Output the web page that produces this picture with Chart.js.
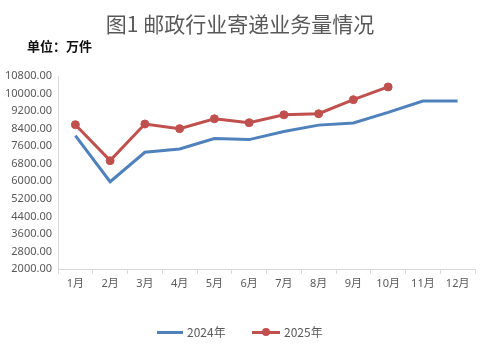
<!DOCTYPE html>
<html>
<head>
<meta charset="utf-8">
<script src="https://cdn.jsdelivr.net/npm/chart.js@4"></script>
<style>
    body { margin: 0; background: #fff; font-family: "Noto Sans CJK SC", "Noto Sans", sans-serif; }
    .wrap { position: relative; width: 480px; height: 352px; }
    .title { position: absolute; left: 0; top: 9px; width: 480px; text-align: center; font-size: 21px; color: #595959; line-height: 28px; }
    .unit { position: absolute; left: 27px; top: 37px; font-size: 13px; font-weight: bold; color: #111; line-height: 18px; }
    .legend { position: absolute; top: 323px; font-size: 12px; color: #595959; line-height: 18px; }
    .legend span.line { position: absolute; top: 8px; height: 3px; }
    .legend span.dot { position: absolute; top: 5px; width: 8px; height: 8px; border-radius: 50%; background: #C0504D; }
    canvas { position: absolute; left: 0; top: 0; }
</style>
</head>
<body>
<div class="wrap">
    <canvas id="chartMain" width="480" height="352"></canvas>
    <div class="title">图1 邮政行业寄递业务量情况</div>
    <div class="unit">单位：万件</div>
    <!-- Legend -->
    <div class="legend" style="left:157px;"><span class="line" style="left:0;width:26px;background:#4F81BD;"></span><span style="position:absolute;left:30px;white-space:nowrap;">2024年</span></div>
    <div class="legend" style="left:252px;"><span class="line" style="left:0;width:28px;background:#C0504D;"></span><span class="dot" style="left:10px;"></span><span style="position:absolute;left:32px;white-space:nowrap;">2025年</span></div>
</div>
<script>
// ========== DATA ==========
const months = ['1月', '2月', '3月', '4月', '5月', '6月', '7月', '8月', '9月', '10月', '11月', '12月'];
const data2024 = [8080, 5980, 7320, 7470, 7950, 7900, 8270, 8560, 8660, 9140, 9660, 9660];
const data2025 = [8580, 6940, 8610, 8400, 8850, 8670, 9030, 9080, 9720, 10300];
const yMin = 2000;
const yMax = 10800;
const yStep = 800;

const axisColor = '#D9D9D9';
const textColor = '#595959';
const tickFont = { family: '"Noto Sans", "Noto Sans CJK SC", sans-serif', size: 11 };

const ctx = document.getElementById('chartMain').getContext('2d');
new Chart(ctx, {
    type: 'line',
    data: {
        labels: months,
        datasets: [
            {
                label: '2024年',
                data: data2024,
                borderColor: '#4F81BD',
                backgroundColor: '#4F81BD',
                borderWidth: 3,
                pointRadius: 0,
                tension: 0
            },
            {
                label: '2025年',
                data: data2025,
                borderColor: '#C0504D',
                backgroundColor: '#C0504D',
                borderWidth: 3,
                pointRadius: 4,
                pointBorderWidth: 1,
                pointHoverRadius: 4,
                tension: 0
            }
        ]
    },
    options: {
        responsive: false,
        animation: false,
        layout: { padding: { top: 76, left: 0, right: 5, bottom: 53 } },
        plugins: {
            legend: { display: false },
            title: { display: false },
            tooltip: { enabled: false }
        },
        scales: {
            x: {
                offset: true,
                grid: { offset: true, drawOnChartArea: false, drawTicks: true, tickLength: 5, color: axisColor },
                border: { color: axisColor },
                ticks: { color: textColor, font: tickFont, padding: 3, maxRotation: 0, autoSkip: false },
                afterFit(scale) { scale.height = 30; }
            },
            y: {
                min: yMin,
                max: yMax,
                grid: { drawOnChartArea: false, drawTicks: false },
                border: { color: axisColor },
                ticks: {
                    stepSize: yStep,
                    color: textColor,
                    font: tickFont,
                    padding: 6,
                    callback: v => Number(v).toFixed(2)
                },
                afterFit(scale) { scale.width = 58; }
            }
        }
    }
});
</script>
</body>
</html>
